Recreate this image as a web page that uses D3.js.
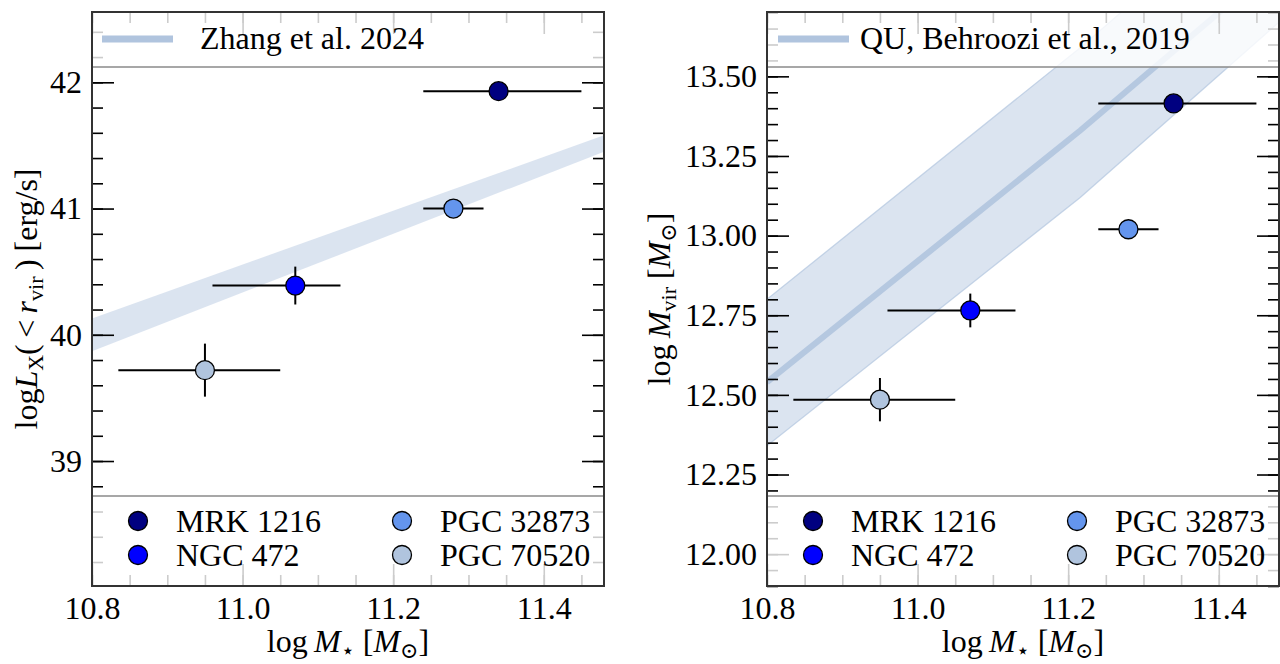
<!DOCTYPE html>
<html>
<head>
<meta charset="utf-8">
<script src="https://cdn.jsdelivr.net/npm/d3@7"></script>
<style>
  body { margin: 0; background: #fff; }
  svg { display: block; }
</style>
</head>
<body>
<script>
// galaxies, one entry per sample member
var galaxies = ['MRK 1216', 'NGC 472', 'PGC 32873', 'PGC 70520'];
var colors = ['#000080', '#0000ff', '#6495ed', '#b0c4de'];
var logMstar = [11.34, 11.07, 11.28, 10.95];
var logMstarLo = [11.24, 10.96, 11.24, 10.835];
var logMstarHi = [11.45, 11.13, 11.32, 11.05];
var logLx = [41.93, 40.39, 41.00, 39.72];
var logLxErr = [0, 0.15, 0, 0.21];
var logMvir = [13.415, 12.765, 13.02, 12.485];
var logMvirErr = [0, 0.053, 0, 0.068];

// Zhang et al. 2024 band (ends of the band)
var zhangX = [10.8, 11.48];
var zhangLo = [39.87, 41.45];
var zhangHi = [40.13, 41.58];

// Behroozi et al. 2019 relation, read at three masses
var behrX = [10.8, 11.216, 11.48];
var behrMid = [12.54, 13.33, 13.86];
var behrLo = [12.34, 13.12, 13.67];
var behrHi = [12.80, 13.59, 14.13];

// ticks
var xMajor = [10.8, 11.0, 11.2, 11.4];
var lxMajor = [39, 40, 41, 42];
var mvirMajor = [12.00, 12.25, 12.50, 12.75, 13.00, 13.25, 13.50];

var FONT = '"Liberation Serif", "Times New Roman", "DejaVu Serif", serif';
var FS = '32px';
var W = 1280, H = 664;
var svg = d3.select('body').append('svg').attr('width', W).attr('height', H)
	.style('font-family', FONT);

function mathLabel(sel, parts) {
	// parts: [text, style] where style is 'i' italic, 's' subscript roman
	parts.forEach(function(p) {
		var t = sel.append('tspan').text(p[0]);
		if (p[1] == 'i') t.style('font-style', 'italic');
		if (p[1] == 's') t.style('font-size', '22px').attr('baseline-shift', '-6px');
	});
}

function drawPanel(opts) {
	var left = opts.left, right = opts.left + 512, top = 12, bottom = 586;
	var x = d3.scaleLinear().domain([10.8, 11.48]).range([left, right]);
	var y = d3.scaleLinear().domain(opts.yDomain).range([bottom, top]);
	var g = svg.append('g');
	var id = 'clip' + opts.key;

	g.append('clipPath').attr('id', id).append('rect')
		.attr('x', left).attr('y', top).attr('width', right - left).attr('height', bottom - top);

	var plot = g.append('g').attr('clip-path', 'url(#' + id + ')');

	// band
	var area = d3.area().x(function(d) { return x(d[0]); })
		.y0(function(d) { return y(d[1]); }).y1(function(d) { return y(d[2]); });
	var bandData = opts.bandX.map(function(v, i) { return [v, opts.bandLo[i], opts.bandHi[i]]; });
	plot.append('path').datum(bandData).attr('d', area)
		.attr('fill', '#b0c4de').attr('fill-opacity', 0.45);
	if (opts.bandEdge) {
		var edge = d3.line().x(function(d) { return x(d[0]); }).y(function(d) { return y(d[1]); });
		[opts.bandLo, opts.bandHi].forEach(function(arr) {
			plot.append('path').datum(opts.bandX.map(function(v, i) { return [v, arr[i]]; }))
				.attr('d', edge).attr('fill', 'none').attr('stroke', '#b0c4de')
				.attr('stroke-opacity', 0.7).attr('stroke-width', 1.3);
		});
	}
	if (opts.bandMid) {
		var line = d3.line().x(function(d) { return x(d[0]); }).y(function(d) { return y(d[1]); });
		plot.append('path').datum(opts.bandX.map(function(v, i) { return [v, opts.bandMid[i]]; }))
			.attr('d', line).attr('fill', 'none').attr('stroke', '#b0c4de')
			.attr('stroke-opacity', 0.9).attr('stroke-width', 6);
	}

	// ticks, inward on all sides
	var xMinor = d3.range(0, 14).map(function(i) { return 10.8 + i * 0.05; });
	var yMinor = d3.range(Math.ceil(opts.yDomain[0] / opts.yMinorStep), Math.floor(opts.yDomain[1] / opts.yMinorStep) + 1)
		.map(function(i) { return i * opts.yMinorStep; });
	function style(a) {
		a.attr('font-family', null).attr('font-size', null);
		a.select('.domain').remove();
		a.selectAll('line').attr('stroke', '#000').attr('stroke-width', 1.6);
		a.selectAll('text').style('font-size', FS).style('font-family', FONT);
	}
	g.append('g').attr('transform', 'translate(0,' + bottom + ')')
		.call(d3.axisBottom(x).tickValues(xMinor).tickSize(-11).tickFormat('')).call(style);
	g.append('g').attr('transform', 'translate(0,' + bottom + ')')
		.call(d3.axisBottom(x).tickValues(xMajor).tickSize(-22).tickPadding(10).tickFormat(d3.format('.1f'))).call(style);
	g.append('g').attr('transform', 'translate(0,' + top + ')')
		.call(d3.axisTop(x).tickValues(xMinor).tickSize(-11).tickFormat('')).call(style);
	g.append('g').attr('transform', 'translate(0,' + top + ')')
		.call(d3.axisTop(x).tickValues(xMajor).tickSize(-22).tickFormat('')).call(style);
	g.append('g').attr('transform', 'translate(' + left + ',0)')
		.call(d3.axisLeft(y).tickValues(yMinor).tickSize(-11).tickFormat('')).call(style);
	g.append('g').attr('transform', 'translate(' + left + ',0)')
		.call(d3.axisLeft(y).tickValues(opts.yMajor).tickSize(-22).tickPadding(10).tickFormat(opts.yFormat)).call(style);
	g.append('g').attr('transform', 'translate(' + right + ',0)')
		.call(d3.axisRight(y).tickValues(yMinor).tickSize(-11).tickFormat('')).call(style);
	g.append('g').attr('transform', 'translate(' + right + ',0)')
		.call(d3.axisRight(y).tickValues(opts.yMajor).tickSize(-22).tickFormat('')).call(style);

	// error bars and points
	var pts = galaxies.map(function(name, i) {
		return {name: name, c: colors[i], x: logMstar[i], xl: logMstarLo[i], xh: logMstarHi[i],
			y: opts.yVals[i], ye: opts.yErr[i]};
	});
	var eb = g.append('g').attr('stroke', '#000').attr('stroke-width', 2);
	pts.forEach(function(d) {
		eb.append('line').attr('x1', x(d.xl)).attr('x2', x(d.xh)).attr('y1', y(d.y)).attr('y2', y(d.y));
		if (d.ye > 0) {
			eb.append('line').attr('x1', x(d.x)).attr('x2', x(d.x)).attr('y1', y(d.y - d.ye)).attr('y2', y(d.y + d.ye));
		}
	});
	g.append('g').selectAll('circle').data(pts).enter().append('circle')
		.attr('cx', function(d) { return x(d.x); }).attr('cy', function(d) { return y(d.y); })
		.attr('r', 9.5).attr('fill', function(d) { return d.c; })
		.attr('stroke', '#000').attr('stroke-width', 1.3);

	// top legend
	g.append('rect').attr('x', left).attr('y', top).attr('width', right - left).attr('height', 67 - top)
		.attr('fill', '#fff').attr('fill-opacity', 0.8).attr('stroke', '#8a8a8a').attr('stroke-width', 1.5);
	g.append('line').attr('x1', opts.legX).attr('x2', opts.legX + 71).attr('y1', 39).attr('y2', 39)
		.attr('stroke', '#b0c4de').attr('stroke-width', 7);
	g.append('text').attr('x', opts.legTextX).attr('y', 49).style('font-size', FS).text(opts.legLabel);

	// bottom legend
	g.append('rect').attr('x', left).attr('y', 496).attr('width', right - left).attr('height', bottom - 496)
		.attr('fill', '#fff').attr('fill-opacity', 0.8).attr('stroke', '#8a8a8a').attr('stroke-width', 1.5);
	var cols = [[0, 1], [2, 3]];
	cols.forEach(function(col, ci) {
		col.forEach(function(k, ri) {
			var cx = left + (ci == 0 ? 46 : 310);
			var cy = 521 + ri * 34;
			g.append('circle').attr('cx', cx).attr('cy', cy).attr('r', 9.5)
				.attr('fill', colors[k]).attr('stroke', '#000').attr('stroke-width', 1.3);
			g.append('text').attr('x', cx + 38).attr('y', cy + 11).style('font-size', FS).text(galaxies[k]);
		});
	});

	// frame
	g.append('rect').attr('x', left).attr('y', top).attr('width', right - left).attr('height', bottom - top)
		.attr('fill', 'none').attr('stroke', '#333').attr('stroke-width', 2);

	// axis labels
	var xl = g.append('text').attr('x', (left + right) / 2).attr('y', 652)
		.attr('text-anchor', 'middle').style('font-size', FS);
	mathLabel(xl, [['log\u2009'], ['M', 'i'], ['\u22c6', 's'], [' [', ''], ['M', 'i'], ['\u2299', 's'], [']']]);

	var yl = g.append('text').attr('transform', 'translate(' + opts.yLabelX + ',' + ((top + bottom) / 2) + ') rotate(-90)')
		.attr('text-anchor', 'middle').style('font-size', FS);
	mathLabel(yl, opts.yLabel);
}

drawPanel({
	key: 'lx', left: 92,
	yDomain: [38.01, 42.557], yMajor: lxMajor, yMinorStep: 0.2, yFormat: d3.format('d'),
	yVals: logLx, yErr: logLxErr,
	bandX: zhangX, bandLo: zhangLo, bandHi: zhangHi, bandEdge: false,
	legX: 102, legTextX: 200, legLabel: 'Zhang et al. 2024',
	yLabelX: 37,
	yLabel: [['log'], ['L', 'i'], ['X', 's'], ['(\u2009<\u2009'], ['r', 'i'], ['vir', 's'], ['\u2009) [erg/s]']]
});

drawPanel({
	key: 'mvir', left: 767,
	yDomain: [11.90, 13.702], yMajor: mvirMajor, yMinorStep: 0.05, yFormat: d3.format('.2f'),
	yVals: logMvir, yErr: logMvirErr,
	bandX: behrX, bandLo: behrLo, bandHi: behrHi, bandMid: behrMid, bandEdge: true,
	legX: 778, legTextX: 860, legLabel: 'QU, Behroozi et al., 2019',
	yLabelX: 670,
	yLabel: [['log\u2009'], ['M', 'i'], ['vir', 's'], [' [', ''], ['M', 'i'], ['\u2299', 's'], [']']]
});
</script>
</body>
</html>
